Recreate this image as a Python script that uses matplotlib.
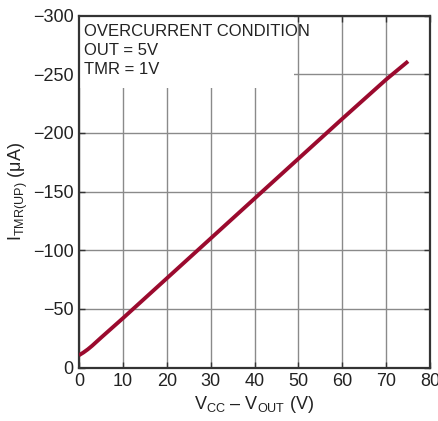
import matplotlib
matplotlib.use("Agg")
import matplotlib.pyplot as plt
from matplotlib import font_manager as fm

names = {f.name for f in fm.fontManager.ttflist}
fam = "Liberation Sans Narrow" if "Liberation Sans Narrow" in names else "Liberation Sans"
plt.rcParams['font.family'] = [fam, 'DejaVu Sans']
plt.rcParams['mathtext.fontset'] = 'custom'
plt.rcParams['mathtext.rm'] = fam
plt.rcParams['mathtext.it'] = fam

vdiff = [0, 1, 2, 3, 5, 10, 20, 30, 40, 50, 60, 70, 75]
itmr = [-10.5, -12.8, -15.5, -18.6, -25.4, -42, -76, -110, -144, -178, -212, -245.5, -261]
xticks = [0, 10, 20, 30, 40, 50, 60, 70, 80]
yticks = [0, -50, -100, -150, -200, -250, -300]
notes = ["OVERCURRENT CONDITION", "OUT = 5V", "TMR = 1V"]

fig = plt.figure(figsize=(4.39, 4.21), dpi=100)
ax = fig.add_axes([0.18, 0.127, 0.7995, 0.836])
ax.set_xlim(0, 80)
ax.set_ylim(0, -300)
ax.set_xticks(xticks)
ax.set_yticks(yticks)
ax.set_yticklabels([str(v).replace('-', '\u2212') for v in yticks])
ax.grid(True, color='#8a8a8a', linewidth=1.0)
ax.set_axisbelow(True)
ax.tick_params(direction='in', length=4, width=1, colors='#333333', labelcolor='#222222',
               labelsize=13, top=True, right=True, pad=4)
for s in ax.spines.values():
    s.set_linewidth(1.6)
    s.set_color('#333333')

ax.plot(vdiff, itmr, color='#9b0a2e', linewidth=2.8, zorder=3, solid_capstyle='butt')

# white box behind notes
ax.add_patch(plt.Rectangle((0, -300), 49, 62, facecolor='white', edgecolor='none', zorder=2))
ax.text(1.2, -292.5, "\n".join(notes), fontsize=12, va='top', ha='left', color='#222222',
        linespacing=1.32, zorder=4)

ax.set_xlabel("V$_{\\mathrm{CC}}$ \u2013 V$_{\\mathrm{OUT}}$ (V)",
              fontsize=13, color='#222222', labelpad=3)
ax.set_ylabel("I$_{\\mathrm{TMR(UP)}}$ (\u03bcA)",
              fontsize=13, color='#222222', labelpad=2)

fig.savefig("out.png", dpi=100)
